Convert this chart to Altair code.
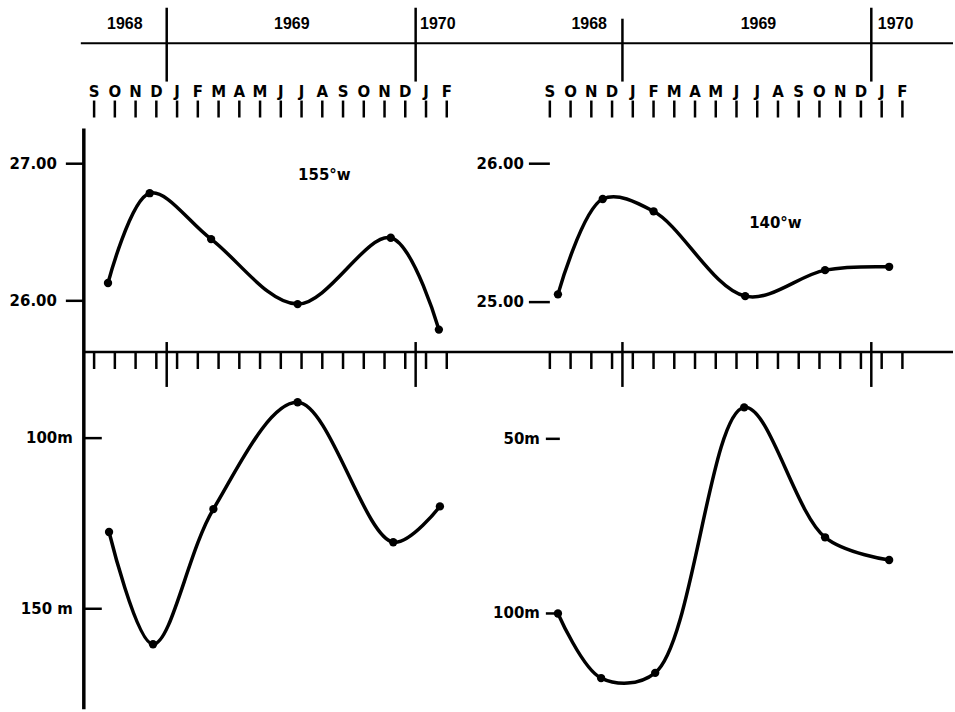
import altair as alt
import pandas as pd

# ---------------- data ----------------
MONTH_LETTERS = ["S", "O", "N", "D", "J", "F", "M", "A", "M", "J", "J", "A",
                 "S", "O", "N", "D", "J", "F"]          # Sep 1968 .. Feb 1970
MONTH_IDX = list(range(len(MONTH_LETTERS)))
YEAR_BOUNDARIES = [3.5, 15.5]                             # Dec/Jan boundaries
YEAR_NAMES = ["1968", "1969", "1970"]
L_YEAR_POS = [1.48, 9.53, 16.57]
R_YEAR_POS = [1.90, 10.06, 16.67]

# 155 W
L_TEMP_MONTH = [0.67, 2.68, 5.64, 9.81, 14.30, 16.62]
L_TEMP = [26.13, 26.785, 26.45, 25.976, 26.46, 25.79]
L_DEPTH_MONTH = [0.72, 2.84, 5.75, 9.81, 14.42, 16.67]
L_DEPTH = [127.5, 160.4, 120.8, 89.5, 130.5, 120.0]

# 140 W
R_TEMP_MONTH = [0.39, 2.55, 5.00, 9.42, 13.27, 16.36]
R_TEMP = [25.056, 25.745, 25.656, 25.043, 25.231, 25.255]
R_DEPTH_MONTH = [0.39, 2.47, 5.08, 9.37, 13.27, 16.36]
R_DEPTH = [100.0, 118.5, 117.0, 41.0, 78.2, 84.7]

L_TEMP_TICKS = [26, 27]
L_TEMP_LABELS = ["26.00", "27.00"]
R_TEMP_TICKS = [25, 26]
R_TEMP_LABELS = ["25.00", "26.00"]
L_DEPTH_TICKS = [100, 150]
L_DEPTH_LABELS = ["100m", "150 m"]
R_DEPTH_TICKS = [50, 100]
R_DEPTH_LABELS = ["50m", "100m"]

H = 712
FONT = "DejaVu Sans"
YEAR_FONT = "Liberation Sans"


def panel(cfg):
    W = cfg["width"]
    xs = alt.Scale(domain=[0, 17], range=cfg["x_range"])
    ts = alt.Scale(domain=cfg["temp_dom"], range=cfg["temp_rng"])
    ds = alt.Scale(domain=cfg["depth_dom"], range=cfg["depth_rng"])
    X = lambda f: alt.X(f"{f}:Q", scale=xs, axis=None)

    months = pd.DataFrame({"m": MONTH_IDX, "lab": MONTH_LETTERS})
    bounds = pd.DataFrame({"m": YEAR_BOUNDARIES})
    years = pd.DataFrame({"m": cfg["year_pos"], "lab": YEAR_NAMES})
    temp = pd.DataFrame({"m": cfg["temp_m"], "v": cfg["temp_v"]})
    depth = pd.DataFrame({"m": cfg["depth_m"], "v": cfg["depth_v"]})
    tt = pd.DataFrame({"v": cfg["tt"], "lab": cfg["tl"]})
    dt = pd.DataFrame({"v": cfg["dt"], "lab": cfg["dl"]})
    one = pd.DataFrame({"a": [0]})

    layers = []
    # header horizontal line
    layers.append(alt.Chart(one).mark_rule(color="black", strokeWidth=2).encode(
        x=alt.value(cfg["header_x0"]), x2=alt.value(W), y=alt.value(42.5)))
    # year boundary lines in header
    for b, top in zip(YEAR_BOUNDARIES, cfg["year_tops"]):
        layers.append(alt.Chart(pd.DataFrame({"m": [b]})).mark_rule(
            color="black", strokeWidth=2.5).encode(
            x=X("m"), y=alt.value(top), y2=alt.value(81)))
    # year labels
    layers.append(alt.Chart(years).mark_text(
        font=YEAR_FONT, fontSize=16, fontWeight="bold", baseline="middle",
        color="black").encode(x=X("m"), y=alt.value(23), text="lab:N"))
    # month letters
    layers.append(alt.Chart(months).mark_text(
        font=FONT, fontSize=15, fontWeight="bold", baseline="middle",
        color="black").encode(x=X("m"), y=alt.value(91), text="lab:N"))
    # month ticks in header
    layers.append(alt.Chart(months).mark_rule(color="black", strokeWidth=2.5).encode(
        x=X("m"), y=alt.value(100), y2=alt.value(117)))
    # middle axis line
    layers.append(alt.Chart(one).mark_rule(color="black", strokeWidth=2.5).encode(
        x=alt.value(cfg["mid_x0"]), x2=alt.value(W), y=alt.value(352)))
    layers.append(alt.Chart(months).mark_rule(color="black", strokeWidth=2.5).encode(
        x=X("m"), y=alt.value(352), y2=alt.value(369)))
    layers.append(alt.Chart(bounds).mark_rule(color="black", strokeWidth=2.5).encode(
        x=X("m"), y=alt.value(342), y2=alt.value(387)))
    # vertical axis (left only)
    if cfg["vaxis"]:
        layers.append(alt.Chart(one).mark_rule(color="black", strokeWidth=3.5).encode(
            x=alt.value(84), y=alt.value(128), y2=alt.value(710)))

    # temperature ticks + labels
    layers.append(alt.Chart(tt).mark_rule(color="black", strokeWidth=2.5).encode(
        y=alt.Y("v:Q", scale=ts, axis=None),
        x=alt.value(cfg["tt_x"][0]), x2=alt.value(cfg["tt_x"][1])))
    layers.append(alt.Chart(tt).mark_text(
        font=FONT, fontSize=15, fontWeight="bold", align="right",
        baseline="middle", color="black").encode(
        y=alt.Y("v:Q", scale=ts, axis=None), x=alt.value(cfg["tl_x"]),
        text="lab:N"))
    # depth ticks + labels
    layers.append(alt.Chart(dt).mark_rule(color="black", strokeWidth=2.5).encode(
        y=alt.Y("v:Q", scale=ds, axis=None),
        x=alt.value(cfg["dt_x"][0]), x2=alt.value(cfg["dt_x"][1])))
    layers.append(alt.Chart(dt).mark_text(
        font=FONT, fontSize=15, fontWeight="bold", align="right",
        baseline="middle", color="black").encode(
        y=alt.Y("v:Q", scale=ds, axis=None), x=alt.value(cfg["dl_x"]),
        text="lab:N"))

    # curves
    for df, sc in ((temp, ts), (depth, ds)):
        layers.append(alt.Chart(df).mark_line(
            color="black", strokeWidth=3.5, interpolate="catmull-rom").encode(
            x=X("m"), y=alt.Y("v:Q", scale=sc, axis=None)))
        layers.append(alt.Chart(df).mark_circle(
            color="black", size=70, opacity=1).encode(
            x=X("m"), y=alt.Y("v:Q", scale=sc, axis=None)))

    # longitude label
    layers.append(alt.Chart(one).mark_text(
        text=cfg["label"], font=FONT, fontSize=15, fontWeight="bold",
        baseline="middle", color="black").encode(
        x=alt.value(cfg["label_xy"][0]), y=alt.value(cfg["label_xy"][1])))

    return alt.layer(*layers).resolve_scale(y="independent").properties(
        width=W, height=H)


left = panel(dict(
    width=477, x_range=[94.3, 447.7], year_pos=L_YEAR_POS, year_tops=[7, 7],
    temp_m=L_TEMP_MONTH, temp_v=L_TEMP, temp_dom=[26, 27], temp_rng=[300.7, 163.3],
    depth_m=L_DEPTH_MONTH, depth_v=L_DEPTH, depth_dom=[100, 150],
    depth_rng=[438.3, 609.3],
    tt=L_TEMP_TICKS, tl=L_TEMP_LABELS, dt=L_DEPTH_TICKS, dl=L_DEPTH_LABELS,
    header_x0=81, mid_x0=84, vaxis=True,
    tt_x=(66, 84), tl_x=57, dt_x=(84, 102), dl_x=73,
    label="155°w", label_xy=(325, 175)))

right = panel(dict(
    width=478, x_range=[74, 427.3], year_pos=R_YEAR_POS, year_tops=[18, 7],
    temp_m=R_TEMP_MONTH, temp_v=R_TEMP, temp_dom=[25, 26], temp_rng=[302, 163.3],
    depth_m=R_DEPTH_MONTH, depth_v=R_DEPTH, depth_dom=[50, 100],
    depth_rng=[439, 614],
    tt=R_TEMP_TICKS, tl=R_TEMP_LABELS, dt=R_DEPTH_TICKS, dl=R_DEPTH_LABELS,
    header_x0=0, mid_x0=0, vaxis=False,
    tt_x=(53, 74), tl_x=48, dt_x=(70, 84), dl_x=64,
    label="140°w", label_xy=(300, 223)))

chart = alt.hconcat(left, right, spacing=0, bounds="flush").properties(
    padding=0).configure_view(stroke=None)

chart.save("out.html", embed_options={"renderer": "svg", "actions": False})
